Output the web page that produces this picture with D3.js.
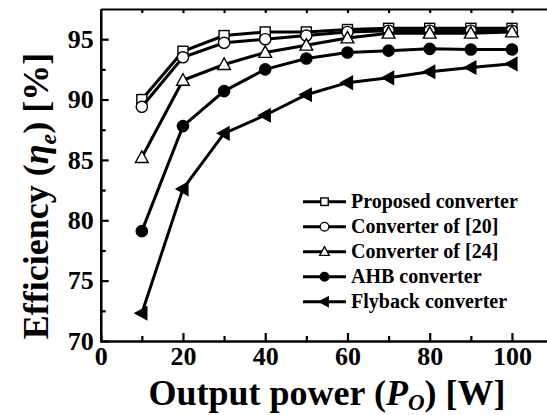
<!DOCTYPE html>
<html>
<head>
<meta charset="utf-8">
<script src="https://cdn.jsdelivr.net/npm/d3@7"></script>
<style>
  body { margin: 0; background: #fff; }
</style>
</head>
<body>
<div id="chart"></div>
<script>
// output power [W] and efficiency [%] for every converter
var power = [10, 20, 30, 40, 50, 60, 70, 80, 90, 100];
var proposed = [90.0, 94.0, 95.3, 95.6, 95.6, 95.8, 95.9, 95.9, 95.9, 95.9];
var conv20 = [89.4, 93.5, 94.7, 95.0, 95.3, 95.6, 95.7, 95.7, 95.7, 95.7];
var conv24 = [85.2, 91.6, 92.9, 93.9, 94.5, 95.1, 95.5, 95.5, 95.5, 95.6];
var ahb = [79.1, 87.8, 90.7, 92.5, 93.4, 93.9, 94.05, 94.2, 94.15, 94.15];
var flyback = [72.3, 82.6, 87.2, 88.7, 90.4, 91.4, 91.8, 92.3, 92.65, 92.95];

var seriesNames = ["Proposed converter", "Converter of [20]", "Converter of [24]", "AHB converter", "Flyback converter"];
var xTicks = [0, 20, 40, 60, 80, 100];
var xMinor = [10, 30, 50, 70, 90, 110];
var yTicks = [70, 75, 80, 85, 90, 95];
var yMinor = [72.5, 77.5, 82.5, 87.5, 92.5];

var series = [
    { name: seriesNames[0], values: proposed, symbol: "square", fill: "#fff" },
    { name: seriesNames[1], values: conv20, symbol: "circle", fill: "#fff" },
    { name: seriesNames[2], values: conv24, symbol: "triangle", fill: "#fff" },
    { name: seriesNames[3], values: ahb, symbol: "circle", fill: "#000" },
    { name: seriesNames[4], values: flyback, symbol: "left", fill: "#000" }
];

var W = 547, H = 415;
var serif = "Liberation Serif, DejaVu Serif, Noto Serif, serif";

var svg = d3.select("#chart")
    .append("svg")
    .attr("width", W)
    .attr("height", H)
    .style("font-family", serif)

// scales
var x = d3.scaleLinear()
    .domain([0, 110])
    .range([100.7, 553.1]);
var y = d3.scaleLinear()
    .domain([70, 97.5])
    .range([341, 9]);

// bottom axis, minor then major ticks
svg.append("g")
    .attr("transform", "translate(0," + y(70) + ")")
    .call(d3.axisBottom(x).tickValues(xMinor).tickSize(-5).tickFormat(""))
    .call(g => g.selectAll("line, path").attr("stroke-width", 2.2))
var xAxis = svg.append("g")
    .attr("transform", "translate(0," + y(70) + ")")
    .call(d3.axisBottom(x).tickValues(xTicks).tickSize(-8).tickSizeOuter(0).tickPadding(6))
xAxis.attr("font-family", null).attr("font-size", 26).attr("font-weight", "bold")
xAxis.selectAll("line, path").attr("stroke-width", 2.2)
xAxis.selectAll("text").attr("fill", "#000")

// top frame line
svg.append("g")
    .attr("transform", "translate(0," + y(97.5) + ")")
    .call(d3.axisTop(x).tickValues(xMinor.concat(xTicks.slice(1))).tickSize(-4).tickFormat("").tickSizeOuter(0))
    .call(g => g.selectAll("line, path").attr("stroke-width", 2.2))

// left axis
svg.append("g")
    .attr("transform", "translate(" + x(0) + ",0)")
    .call(d3.axisLeft(y).tickValues(yMinor).tickSize(-5).tickFormat("").tickSizeOuter(0))
    .call(g => g.selectAll("line, path").attr("stroke-width", 2.2))
var yAxis = svg.append("g")
    .attr("transform", "translate(" + x(0) + ",0)")
    .call(d3.axisLeft(y).tickValues(yTicks).tickSize(-8).tickSizeOuter(0).tickPadding(7))
yAxis.attr("font-family", null).attr("font-size", 26).attr("font-weight", "bold")
yAxis.selectAll("line, path").attr("stroke-width", 2.2)
yAxis.selectAll("text").attr("fill", "#000")

// marker drawing helper
function drawMarker(g, symbol, fill, s) {
    if (symbol == "square") {
        g.append("rect").attr("x", -s / 2).attr("y", -s / 2).attr("width", s).attr("height", s)
            .attr("fill", fill).attr("stroke", "#000").attr("stroke-width", 1.4)
    } else if (symbol == "circle") {
        g.append("circle").attr("r", s / 2 + 0.6)
            .attr("fill", fill).attr("stroke", "#000").attr("stroke-width", 1.4)
    } else if (symbol == "triangle") {
        var h = s * 1.1
        g.append("path").attr("d", "M0," + (-h * 0.6) + "L" + (h * 0.58) + "," + (h * 0.45) + "L" + (-h * 0.58) + "," + (h * 0.45) + "Z")
            .attr("fill", fill).attr("stroke", "#000").attr("stroke-width", 1.4)
    } else {
        var h = s * 1.1
        g.append("path").attr("d", "M" + (-h * 0.6) + ",0L" + (h * 0.45) + "," + (-h * 0.58) + "L" + (h * 0.45) + "," + (h * 0.58) + "Z")
            .attr("fill", fill).attr("stroke", "#000").attr("stroke-width", 1.4)
    }
}

var line = d3.line()
    .x(function (d, i) { return x(power[i]); })
    .y(function (d) { return y(d); });

// lines and markers, one series after another
series.forEach(function (s) {
    var g = svg.append("g")
    g.append("path")
        .attr("d", line(s.values))
        .attr("fill", "none")
        .attr("stroke", "#000")
        .attr("stroke-width", 3)
    s.values.forEach(function (v, i) {
        var m = g.append("g").attr("transform", "translate(" + x(power[i]) + "," + y(v) + ")")
        drawMarker(m, s.symbol, s.fill, 10)
    })
})

// legend
var legend = svg.append("g")
    .attr("font-weight", "bold").attr("font-size", 20)
series.forEach(function (s, i) {
    var ly = 201.7 + i * 25
    var row = legend.append("g")
    row.append("line")
        .attr("x1", 303).attr("x2", 346)
        .attr("y1", ly).attr("y2", ly)
        .attr("stroke", "#000").attr("stroke-width", 3)
    var m = row.append("g").attr("transform", "translate(324.5," + ly + ")")
    drawMarker(m, s.symbol, s.fill, 7.5)
    row.append("text")
        .attr("x", 351)
        .attr("y", ly + 6.5)
        .text(s.name)
})

// axis titles
var xt = svg.append("text")
    .attr("x", 327)
    .attr("y", 405)
    .attr("text-anchor", "middle")
    .attr("font-weight", "bold").attr("font-size", 36)
xt.append("tspan").text("Output power (")
xt.append("tspan").attr("font-style", "italic").text("P")
xt.append("tspan").attr("font-style", "italic").attr("font-size", 23).attr("dy", 5).text("O")
xt.append("tspan").attr("dy", -5).text(") [W]")

var yt = svg.append("text")
    .attr("transform", "translate(48,196) rotate(-90)")
    .attr("text-anchor", "middle")
    .attr("font-weight", "bold").attr("font-size", 36)
yt.append("tspan").text("Efficiency (")
yt.append("tspan").attr("font-style", "italic").text("\u03b7")
yt.append("tspan").attr("font-style", "italic").attr("font-size", 24).attr("dy", 8).text("e")
yt.append("tspan").attr("dy", -8).text(") [%]")
</script>
</body>
</html>
